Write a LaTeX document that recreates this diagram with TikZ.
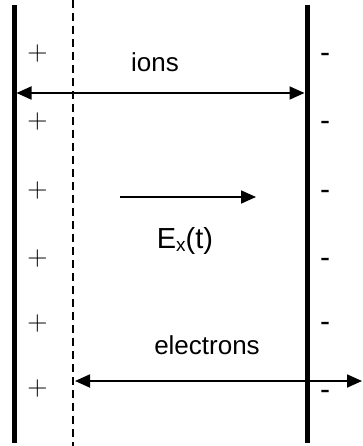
\documentclass[tikz,border=0pt]{standalone}
\usepackage{fontspec}
\setmainfont{Liberation Sans}
\newfontfamily\plusfont{Latin Modern Roman}
\usetikzlibrary{arrows.meta}
\tikzset{
  plate/.style={line width=5pt},
  sheath/.style={line width=1.8pt, dash pattern=on 8pt off 5pt},
  flow/.style={line width=1.8pt, {Triangle[length=15pt,width=13pt]}-{Triangle[length=15pt,width=13pt]}},
  field/.style={line width=1.8pt, -{Triangle[length=15pt,width=13pt]}},
  pluscharge/.style={font=\plusfont\fontsize{28}{30}\selectfont, inner sep=0pt},
  minuscharge/.style={font=\fontsize{30}{32}\selectfont, inner sep=0pt},
  lbl/.style={font=\fontsize{26}{30}\selectfont, inner sep=0pt}
}

\begin{document}
\begin{tikzpicture}[x=1pt,y=-1pt]
\useasboundingbox (0,0) rectangle (362,446);
% Plates
\draw[plate] (14,5) coordinate (lt) -- (14,443) coordinate (lb);
\draw[plate] (307,5) coordinate (rt) -- (307,443) coordinate (rb);
% Sheath edge
\draw[sheath] (73,0) coordinate (st) -- (73,446) coordinate (sb);
% Charges
\foreach \y/\n in {54/1,122/2,191/3,259/4,324/5,389/6} {
  \node[pluscharge] (plus\n) at (37.5,\y) {+};
}
\foreach \y/\n in {58/1,126/2,195/3,263/4,327/5,395/6} {
  \node[minuscharge] (minus\n) at (325,\y) {-};
}
% Ions
\coordinate (ionL) at (16.5,93);
\coordinate (ionR) at (304.5,93);
\draw[flow] (ionL) -- (ionR);
\node[lbl] (ions) at (155,62) {ions};
% Field
\coordinate (eL) at (120,197);
\coordinate (eR) at (256,197);
\draw[field] (eL) -- (eR);
\node[lbl, font=\fontsize{29}{32}\selectfont, anchor=base] (efield) at (185,248)
  {E\raisebox{-3pt}{\fontsize{19}{20}\selectfont x}(t)};
% Electrons
\coordinate (elL) at (75,381);
\coordinate (elR) at (362,381);
\draw[flow] (elL) -- (elR);
\node[lbl] (electrons) at (207,345) {electrons};
\end{tikzpicture}
\end{document}
